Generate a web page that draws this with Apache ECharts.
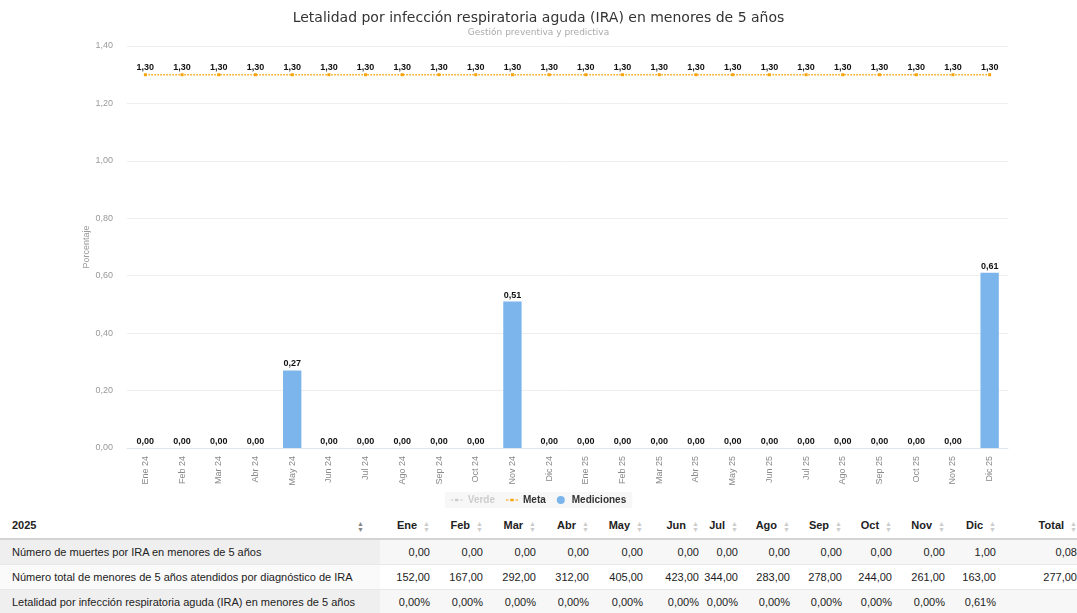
<!DOCTYPE html>
<html>
<head>
<meta charset="utf-8">
<script src="https://cdn.jsdelivr.net/npm/echarts@6/dist/echarts.min.js"></script>
<style>
  body { margin: 0; background: #fff; font-family: "DejaVu Sans", sans-serif; overflow: hidden; }
  #chart { width: 1077px; height: 512px; }
  table { border-collapse: collapse; table-layout: fixed; width: 1077px; font-family: "Liberation Sans", Arial, sans-serif; font-size: 11px; color: #222; }
  th { text-align: right; font-weight: bold; height: 24px; border-bottom: 2px solid #d4d4d4; padding: 2px 4px 0 0; white-space: nowrap; }
  th:first-child { text-align: left; padding-left: 12px; }
  td { text-align: right; height: 24px; padding: 0 4px 0 0; border-bottom: 1px solid #e8e8e8; white-space: nowrap; }
  td:first-child { text-align: left; padding-left: 12px; background: #fafafa; }
  td:last-child, th:last-child { padding-right: 0; }
  tr.odd td { background: #f7f7f7; }
  tr.odd td:first-child { background: #efefef; }
  .s { display: inline-block; color: #ccc; font-size: 7px; line-height: 6px; vertical-align: middle; margin-left: 6px; text-align: center; }
  .s.act { color: #888; }
</style>
</head>
<body>
<div id="chart"></div>
<div id="tbl"></div>
<script>
// datos del grafico
const categorias = ["Ene 24", "Feb 24", "Mar 24", "Abr 24", "May 24", "Jun 24", "Jul 24", "Ago 24", "Sep 24", "Oct 24", "Nov 24", "Dic 24",
  "Ene 25", "Feb 25", "Mar 25", "Abr 25", "May 25", "Jun 25", "Jul 25", "Ago 25", "Sep 25", "Oct 25", "Nov 25", "Dic 25"];
const mediciones = [0, 0, 0, 0, 0.27, 0, 0, 0, 0, 0, 0.51, 0, 0, 0, 0, 0, 0, 0, 0, 0, 0, 0, 0, 0.61];
const meta = [1.3, 1.3, 1.3, 1.3, 1.3, 1.3, 1.3, 1.3, 1.3, 1.3, 1.3, 1.3, 1.3, 1.3, 1.3, 1.3, 1.3, 1.3, 1.3, 1.3, 1.3, 1.3, 1.3, 1.3];
const verde = [];

// datos de la tabla
const meses = ["Ene", "Feb", "Mar", "Abr", "May", "Jun", "Jul", "Ago", "Sep", "Oct", "Nov", "Dic"];
const muertes = [0, 0, 0, 0, 0, 0, 0, 0, 0, 0, 0, 1];
const atendidos = [152, 167, 292, 312, 405, 423, 344, 283, 278, 244, 261, 163];
const letalidad = [0, 0, 0, 0, 0, 0, 0, 0, 0, 0, 0, 0.61];
const totales = [0.08, 277];

const fmt = v => v.toFixed(2).replace(".", ",");

const chart = echarts.init(document.getElementById("chart"));
const option = {
  animation: false,
  title: {
    text: "Letalidad por infección respiratoria aguda (IRA) en menores de 5 años",
    subtext: "Gestión preventiva y predictiva",
    left: "center",
    top: 6,
    itemGap: 3,
    textStyle: { fontSize: 14, fontWeight: "normal", color: "#333", fontFamily: "DejaVu Sans" },
    subtextStyle: { fontSize: 9, color: "#aaa", fontFamily: "DejaVu Sans" },
  },
  legend: {
    bottom: 4,
    left: "center",
    backgroundColor: "#f7f7f7",
    padding: [3, 6],
    itemWidth: 12,
    itemHeight: 8,
    itemGap: 11,
    textStyle: { fontSize: 10, fontWeight: "bold", color: "#333" },
    inactiveColor: "#ccc",
    selected: { Verde: false },
    data: [
      { name: "Verde", icon: "path://M0,4L3,4L3,5L0,5Z M5,3L9,3L9,6L5,6Z M11,4L14,4L14,5L11,5Z" },
      { name: "Meta", icon: "path://M0,4L3,4L3,5L0,5Z M5,3L9,3L9,6L5,6Z M11,4L14,4L14,5L11,5Z" },
      { name: "Mediciones", icon: "circle" },
    ],
  },
  grid: { left: 127, right: 69, top: 46, bottom: 64 },
  xAxis: {
    type: "category",
    data: categorias,
    axisLine: { lineStyle: { color: "#e0e6f1" } },
    axisTick: { show: false },
    axisLabel: { rotate: 90, fontSize: 9, color: "#888", margin: 8, interval: 0 },
  },
  yAxis: {
    type: "value",
    min: 0,
    max: 1.4,
    interval: 0.2,
    name: "Porcentaje",
    nameLocation: "middle",
    nameGap: 36,
    nameMoveOverlap: false,
    nameTextStyle: { fontSize: 9, color: "#999" },
    axisLabel: { fontSize: 9, color: "#999", margin: 14, formatter: v => fmt(v) },
    splitLine: { lineStyle: { color: "#eee" } },
  },
  series: [
    {
      name: "Verde",
      type: "line",
      data: verde,
      itemStyle: { color: "#aaa" },
      lineStyle: { type: "dashed" },
    },
    {
      name: "Meta",
      type: "line",
      data: meta,
      symbol: "rect",
      symbolSize: 3,
      itemStyle: { color: "#f5a40c" },
      lineStyle: { type: "dotted", width: 1.5, color: "#f5a40c" },
      label: { show: true, position: "top", fontSize: 9, fontWeight: "bold", color: "#111", distance: 1, formatter: p => fmt(p.value) },
    },
    {
      name: "Mediciones",
      type: "bar",
      data: mediciones,
      barWidth: "50%",
      itemStyle: { color: "#7cb5ec" },
      label: { show: true, position: "top", fontSize: 9, fontWeight: "bold", color: "#111", distance: 2, formatter: p => fmt(p.value) },
    },
  ],
};
chart.setOption(option);

// tabla inferior
const anchos = [380, 54, 53, 53, 53, 54, 56, 39, 52, 52, 50, 53, 51, 77];
const sortIcon = act => '<span class="s' + (act ? " act" : "") + '">▲<br>▼</span>';
let html = "<table><colgroup>" + anchos.map(w => "<col style='width:" + w + "px'>").join("") + "</colgroup>";
html += "<tr><th>2025" + '<span style="float:right;margin-right:12px">' + sortIcon(true) + "</span></th>";
meses.forEach(m => { html += "<th>" + m + sortIcon(false) + "</th>"; });
html += "<th>Total" + sortIcon(false) + "</th></tr>";
const filas = [
  ["Número de muertes por IRA en menores de 5 años", muertes.map(fmt), fmt(totales[0]), "odd"],
  ["Número total de menores de 5 años atendidos por diagnóstico de IRA", atendidos.map(fmt), fmt(totales[1]), ""],
  ["Letalidad por infección respiratoria aguda (IRA) en menores de 5 años", letalidad.map(v => fmt(v) + "%"), "", "odd"],
];
filas.forEach(f => {
  html += "<tr class='" + f[3] + "'><td>" + f[0] + "</td>";
  f[1].forEach(v => { html += "<td>" + v + "</td>"; });
  html += "<td>" + f[2] + "</td></tr>";
});
html += "</table>";
document.getElementById("tbl").innerHTML = html;
</script>
</body>
</html>
